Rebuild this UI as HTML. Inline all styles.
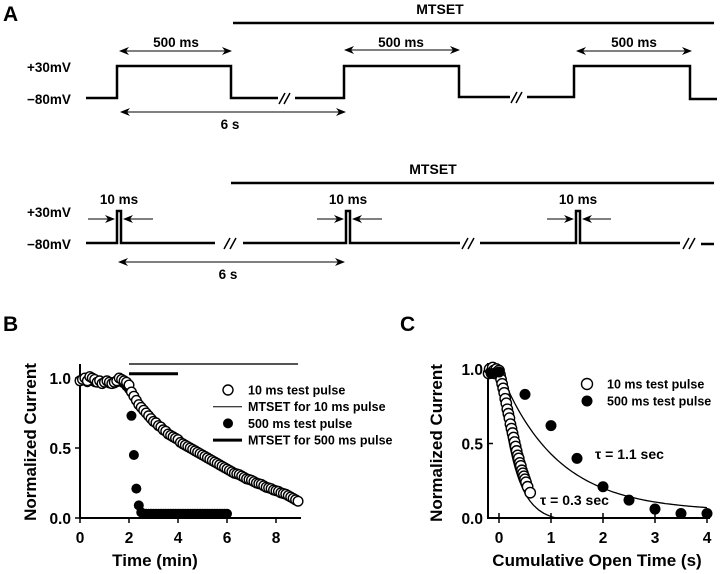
<!DOCTYPE html>
<html><head><meta charset="utf-8">
<style>
html,body{margin:0;padding:0;background:#fff;}
svg{display:block;font-family:"Liberation Sans",Arial,sans-serif;font-weight:bold;}
</style></head>
<body>
<svg id="fig" width="720" height="574" viewBox="0 0 720 574" xmlns="http://www.w3.org/2000/svg">
<defs>
<marker id="ah" markerWidth="10" markerHeight="8" refX="9" refY="4" orient="auto" markerUnits="userSpaceOnUse"><path d="M0,0 L10,4 L0,8 L3,4 Z" fill="#000"/></marker>
</defs>
<g id="panelA" stroke="#000" fill="none">
<text x="3" y="21" font-size="21" fill="#000" stroke="none">A</text>
<text x="440" y="14" font-size="14" text-anchor="middle" fill="#000" stroke="none">MTSET</text>
<line x1="233" y1="23" x2="714" y2="23" stroke-width="2.5"/>
<polyline stroke-width="2.5" points="86,98 117,98 117,66 231,66 231,98 278,98"/>
<polyline stroke-width="2.5" points="295,98 344,98 344,66 459,66 459,97 510,97"/>
<polyline stroke-width="2.5" points="527,97 574,97 574,66 690,66 690,99 717,99"/>
<g stroke-width="1.5">
<line x1="279" y1="104" x2="285" y2="93"/><line x1="284" y1="104" x2="290" y2="93"/>
<line x1="511" y1="103" x2="517" y2="92"/><line x1="516" y1="103" x2="522" y2="92"/>
</g>
<g stroke-width="1">
<line x1="231" y1="51" x2="120" y2="51" marker-end="url(#ah)"/><line x1="120" y1="51" x2="231" y2="51" marker-end="url(#ah)"/>
<line x1="459" y1="50" x2="345" y2="50" marker-end="url(#ah)"/><line x1="345" y1="50" x2="459" y2="50" marker-end="url(#ah)"/>
<line x1="691" y1="51" x2="577" y2="51" marker-end="url(#ah)"/><line x1="577" y1="51" x2="691" y2="51" marker-end="url(#ah)"/>
<line x1="345" y1="112" x2="121" y2="112" marker-end="url(#ah)"/><line x1="121" y1="112" x2="345" y2="112" marker-end="url(#ah)"/>
</g>
<g fill="#000" stroke="none" font-size="13.5">
<text x="176" y="47" text-anchor="middle">500 ms</text>
<text x="401" y="47" text-anchor="middle">500 ms</text>
<text x="634" y="47" text-anchor="middle">500 ms</text>
<text x="230" y="129" text-anchor="middle">6 s</text>
<text x="27" y="72">+30mV</text>
<text x="27" y="104">−80mV</text>
<text x="433" y="174" font-size="14" text-anchor="middle">MTSET</text>
<text x="119" y="204" text-anchor="middle">10 ms</text>
<text x="348" y="204" text-anchor="middle">10 ms</text>
<text x="578" y="204" text-anchor="middle">10 ms</text>
<text x="228" y="279" text-anchor="middle">6 s</text>
<text x="27" y="217">+30mV</text>
<text x="27" y="249">−80mV</text>
</g>
<line x1="231" y1="183" x2="714" y2="183" stroke-width="2.5"/>
<polyline stroke-width="2.5" points="86,243 117,243 117,211 121,211 121,243 215,243"/>
<polyline stroke-width="2.5" points="243,243 346,243 346,211 350,211 350,243 460,243"/>
<polyline stroke-width="2.5" points="480,243 576,243 576,211 580,211 580,243 680,243"/>
<line x1="701" y1="244" x2="714" y2="244" stroke-width="2.5"/>
<g stroke-width="1.5">
<line x1="224" y1="249" x2="230" y2="238"/><line x1="230" y1="249" x2="236" y2="238"/>
<line x1="462" y1="249" x2="468" y2="238"/><line x1="468" y1="249" x2="474" y2="238"/>
<line x1="683" y1="249" x2="689" y2="238"/><line x1="689" y1="249" x2="695" y2="238"/>
</g>
<g stroke-width="1">
<line x1="88" y1="219" x2="114" y2="219" marker-end="url(#ah)"/><line x1="153" y1="219" x2="124" y2="219" marker-end="url(#ah)"/>
<line x1="317" y1="219" x2="343" y2="219" marker-end="url(#ah)"/><line x1="382" y1="219" x2="353" y2="219" marker-end="url(#ah)"/>
<line x1="547" y1="219" x2="573" y2="219" marker-end="url(#ah)"/><line x1="611" y1="219" x2="583" y2="219" marker-end="url(#ah)"/>
<line x1="344" y1="262" x2="119" y2="262" marker-end="url(#ah)"/><line x1="119" y1="262" x2="344" y2="262" marker-end="url(#ah)"/>
</g>
</g>
<g id="panelB"></g>
<g id="panelC"></g>
</svg>
<script>
// ---- Panel B data ----
const bOpenT = [0,0.1,0.2,0.3,0.4,0.5,0.6,0.7,0.8,0.9,1.0,1.1,1.2,1.3,1.4,1.5,1.6,1.7,1.8,1.9,2.0,2.1,2.2,2.3,2.4,2.5,2.6,2.7,2.8,2.9,3.0,3.1,3.2,3.3,3.4,3.5,3.6,3.7,3.8,3.9,4.0,4.1,4.2,4.3,4.4,4.5,4.6,4.7,4.8,4.9,5.0,5.1,5.2,5.3,5.4,5.5,5.6,5.7,5.8,5.9,6.0,6.1,6.2,6.3,6.4,6.5,6.6,6.7,6.8,6.9,7.0,7.1,7.2,7.3,7.4,7.5,7.6,7.7,7.8,7.9,8.0,8.1,8.2,8.3,8.4,8.5,8.6,8.7,8.8,8.9];
const bOpenV = [0.98,0.99,1.0,0.98,1.01,1.0,0.99,0.97,0.98,0.96,0.97,0.98,0.97,0.96,0.97,0.98,1.0,0.99,0.98,0.97,
0.95,0.90,0.87,0.84,0.81,0.79,0.77,0.75,0.73,0.71,0.69,0.68,0.66,0.65,0.63,0.62,0.60,0.59,0.58,0.57,
0.56,0.54,0.53,0.52,0.51,0.50,0.49,0.48,0.47,0.46,0.45,0.44,0.43,0.42,0.41,0.40,0.39,0.38,0.37,0.36,
0.35,0.34,0.33,0.32,0.315,0.31,0.30,0.29,0.28,0.275,0.27,0.26,0.25,0.245,0.24,0.23,0.22,0.215,0.21,0.20,
0.195,0.19,0.18,0.175,0.17,0.16,0.15,0.14,0.13,0.12];
const bFillT = [0,0.1,0.2,0.3,0.4,0.5,0.6,0.7,0.8,0.9,1.0,1.1,1.2,1.3,1.4,1.5,1.6,1.7,1.8,1.9,2.0,2.1,2.2,2.3,2.4,2.5,2.6,2.7,2.8,2.9,3.0,3.1,3.2,3.3,3.4,3.5,3.6,3.7,3.8,3.9,4.0,4.1,4.2,4.3,4.4,4.5,4.6,4.7,4.8,4.9,5.0,5.1,5.2,5.3,5.4,5.5,5.6,5.7,5.8,5.9,6.0];
const bFillV = [0.98,0.99,0.98,0.97,0.99,0.98,0.97,0.98,0.97,0.96,0.97,0.97,0.96,0.97,0.96,0.97,0.98,0.97,0.96,0.94,0.92,0.73,0.45,0.21,0.09,0.04,0.03,0.03,0.03,0.03,0.03,0.03,0.03,0.03,0.03,0.03,0.03,0.03,0.03,0.03,0.03,0.03,0.03,0.03,0.03,0.03,0.03,0.03,0.03,0.03,0.03,0.03,0.03,0.03,0.03,0.03,0.03,0.03,0.03,0.03,0.03];
const bXTicks = [0,2,4,6,8];
const bYTicks = [0.0,0.5,1.0];
const bYTickLabels = ["0.0","0.5","1.0"];
const bMtset10 = [2,8.9,1.1];
const bMtset500 = [2,4,1.03];
const bLegend = ["10  ms test pulse","MTSET for 10 ms pulse","500 ms test pulse","MTSET for 500 ms pulse"];
// ---- Panel C data ----
const cOpenX = [-0.2,-0.18,-0.15,-0.12,-0.1,-0.08,-0.05,-0.03,0,0.02,0.04,0.06,0.08,0.1,0.12,0.14,0.16,0.18,0.2,0.22,0.24,0.26,0.28,0.3,0.32,0.34,0.36,0.38,0.4,0.42,0.44,0.46,0.48,0.5,0.52,0.55,0.6];
const cOpenY = [0.97,1.0,0.98,1.01,0.99,0.97,1.0,0.98,0.99,0.96,0.93,0.9,0.87,0.84,0.8,0.77,0.73,0.7,0.67,0.63,0.6,0.57,0.54,0.51,0.48,0.45,0.42,0.4,0.37,0.35,0.32,0.3,0.28,0.26,0.24,0.21,0.17];
const cFillX = [-0.15,0,0.5,1,1.5,2,2.5,3,3.5,4];
const cFillY = [0.97,0.98,0.83,0.62,0.40,0.21,0.12,0.06,0.03,0.03];
const cXTicks = [0,1,2,3,4];
const cYTicks = [0.0,0.5,1.0];
const cYTickLabels = ["0.0","0.5","1.0"];
const cTaus = [0.3,1.1];
const cFitEnds = [1.1,4.0];
const cFitEndVals = [0.0,0.07];
const cLegend = ["10 ms test pulse","500 ms test pulse"];

const NS="http://www.w3.org/2000/svg";
function mk(parent,tag,attrs,text){const e=document.createElementNS(NS,tag);for(const k in attrs)e.setAttribute(k,attrs[k]);if(text!==undefined)e.textContent=text;parent.appendChild(e);return e;}

// Panel B
const gB=document.getElementById('panelB');
const bx=t=>80+t*24.5, by=v=>518-v*140;
let t=mk(gB,'text',{x:3,y:331,'font-size':21},'B');


let ax=mk(gB,'path',{d:`M80,364 L80,518 L301,518`,stroke:'#000','stroke-width':2,fill:'none'});


bXTicks.forEach(v=>{
 const l=mk(gB,'line',{x1:bx(v),y1:518,x2:bx(v),y2:523,stroke:'#000','stroke-width':1.5});
 
 
 const tx=mk(gB,'text',{x:bx(v),y:543,'font-size':15.5,'text-anchor':'middle'},String(v));
 
 
});
bYTicks.forEach((v,i)=>{
 const l=mk(gB,'line',{x1:75,y1:by(v),x2:80,y2:by(v),stroke:'#000','stroke-width':1.5});
 
 
 const tx=mk(gB,'text',{x:71,y:by(v)+6,'font-size':15.5,'text-anchor':'end'},bYTickLabels[i]);
 
 
});
t=mk(gB,'text',{x:155,y:566,'font-size':17,'text-anchor':'middle'},'Time (min)');


t=mk(gB,'text',{x:0,y:0,'font-size':17,'text-anchor':'middle',transform:'translate(36,442) rotate(-90)'},'Normalized Current');


let m=mk(gB,'line',{x1:bx(bMtset10[0]),y1:by(bMtset10[2]),x2:bx(bMtset10[1]),y2:by(bMtset10[2]),stroke:'#555','stroke-width':2});


m=mk(gB,'line',{x1:bx(bMtset500[0]),y1:by(bMtset500[2]),x2:bx(bMtset500[1]),y2:by(bMtset500[2]),stroke:'#000','stroke-width':3});


bFillT.forEach((tt,i)=>{
 const c=mk(gB,'circle',{cx:bx(tt),cy:by(bFillV[i]),r:5,fill:'#000'});
 
 
});
bOpenT.forEach((tt,i)=>{
 const c=mk(gB,'circle',{cx:bx(tt),cy:by(bOpenV[i]),r:4.8,fill:'#fff',stroke:'#000','stroke-width':1.4});
 
 
});
const lg=[[0,'oc'],[1,'thin'],[2,'fc'],[3,'thick']];
lg.forEach(([i,k])=>{
 const y=390+i*16.7;
 let e;
 if(k==='oc')e=mk(gB,'circle',{cx:228,cy:y,r:5,fill:'#fff',stroke:'#000','stroke-width':1.4});
 if(k==='fc')e=mk(gB,'circle',{cx:228,cy:y,r:5,fill:'#000'});
 if(k==='thin')e=mk(gB,'line',{x1:213,y1:y,x2:242,y2:y,stroke:'#000','stroke-width':1});
 if(k==='thick')e=mk(gB,'line',{x1:213,y1:y,x2:242,y2:y,stroke:'#000','stroke-width':3});
 
 
 const tx=mk(gB,'text',{x:248,y:y+4.5,'font-size':12.5},bLegend[i]);
 
 
});

// Panel C
const gC=document.getElementById('panelC');
const cx=v=>499+v*52, cy=v=>518-v*149;
t=mk(gC,'text',{x:400,y:331,'font-size':21},'C');


ax=mk(gC,'path',{d:`M488,363 L488,518 L710,518`,stroke:'#000','stroke-width':2,fill:'none'});


cXTicks.forEach(v=>{
 const l=mk(gC,'line',{x1:cx(v),y1:513,x2:cx(v),y2:523,stroke:'#000','stroke-width':1.5});
 
 
 const tx=mk(gC,'text',{x:cx(v),y:543,'font-size':15.5,'text-anchor':'middle'},String(v));
 
 
});
cYTicks.forEach((v,i)=>{
 const l=mk(gC,'line',{x1:488,y1:cy(v),x2:493,y2:cy(v),stroke:'#000','stroke-width':1.5});
 
 
 const tx=mk(gC,'text',{x:483,y:cy(v)+6,'font-size':15.5,'text-anchor':'end'},cYTickLabels[i]);
 
 
});
t=mk(gC,'text',{x:597,y:566,'font-size':17,'text-anchor':'middle'},'Cumulative Open Time (s)');


t=mk(gC,'text',{x:0,y:0,'font-size':17,'text-anchor':'middle',transform:'translate(442,443) rotate(-90)'},'Normalized Current');


cTaus.forEach((tau,k)=>{
 const xe=cFitEnds[k], ye=cFitEndVals[k], q=Math.exp(-xe/tau);
 const a=(1-ye)/(1-q), c=1-a;
 let d='';
 for(let i=0;i<=80;i++){const x=xe*i/80;const y=a*Math.exp(-x/tau)+c;d+=(i?'L':'M')+cx(x).toFixed(1)+','+cy(y).toFixed(1);}
 const p=mk(gC,'path',{d:d,fill:'none',stroke:'#000','stroke-width':1.3});
 
 
});
cOpenX.forEach((x,i)=>{
 const c=mk(gC,'circle',{cx:cx(x),cy:cy(cOpenY[i]),r:5.2,fill:'#fff',stroke:'#000','stroke-width':1.4});
 
 
});
cFillX.forEach((x,i)=>{
 const c=mk(gC,'circle',{cx:cx(x),cy:cy(cFillY[i]),r:5.5,fill:'#000'});
 
 
});
let e=mk(gC,'circle',{cx:587,cy:384,r:5.5,fill:'#fff',stroke:'#000','stroke-width':1.4});


e=mk(gC,'circle',{cx:587,cy:401,r:5.5,fill:'#000'});


cLegend.forEach((s,i)=>{
 const tx=mk(gC,'text',{x:607,y:388.5+i*17,'font-size':12.5},s);
 
 
});
t=mk(gC,'text',{x:595,y:459,'font-size':14},'τ = 1.1 sec');


t=mk(gC,'text',{x:540,y:505,'font-size':14},'τ = 0.3 sec');


</script>
</body></html>
